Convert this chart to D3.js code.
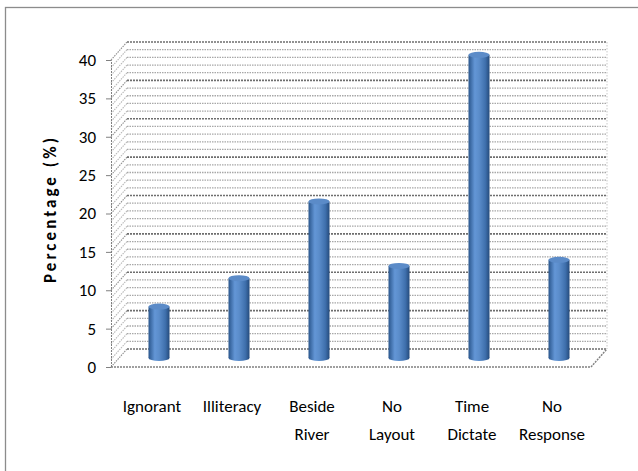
<!DOCTYPE html>
<html>
<head>
<meta charset="utf-8">
<script src="https://cdn.jsdelivr.net/npm/d3@7"></script>
<style>
  html, body { margin: 0; padding: 0; background: #fff; }
  svg { display: block; }
</style>
</head>
<body>
<svg id="chart" width="638" height="471"></svg>
<script>
// ---- data ----
const categories = ["Ignorant", "Illiteracy", "Beside River", "No Layout", "Time Dictate", "No Response"];
const values = [6.7, 10.4, 20.4, 12.0, 39.5, 12.8];
const yTicks = [0, 5, 10, 15, 20, 25, 30, 35, 40];
const yTitle = "Percentage (%)";

// ---- layout ----
const svg = d3.select("#chart");
const DX = 16, DY = -18;           // 3D depth offset (front -> back)
const y = d3.scaleLinear().domain([0, 40]).range([367, 60]);
const x = d3.scaleBand().domain(categories).range([111, 591]).padding(0);
const font = "Carlito, Calibri, Lato, 'DejaVu Sans', sans-serif";

// outer frame
svg.append("rect")
  .attr("x", 5.5).attr("y", 7.5).attr("width", 700).attr("height", 500)
  .attr("fill", "none").attr("stroke", "#8c8c8c").attr("stroke-width", 1.3);

// gridlines: side wall diagonal + back wall horizontal
const minor = d3.range(0, 41, 1);
const g = svg.append("g");
minor.forEach(v => {
  const major = v % 5 === 0;
  const yf = y(v), yb = y(v) + DY;
  g.append("line")
    .attr("x1", x.range()[0]).attr("y1", yf)
    .attr("x2", x.range()[0] + DX).attr("y2", yb)
    .attr("stroke", major ? "#8f8f8f" : "#b8b8b8")
    .attr("stroke-width", 1.1)
    .attr("stroke-dasharray", "1.5,1");
  g.append("line")
    .attr("x1", x.range()[0] + DX).attr("y1", yb)
    .attr("x2", x.range()[1] + DX).attr("y2", yb)
    .attr("stroke", major ? "#6e6e6e" : "#a8a8a8")
    .attr("stroke-width", major ? 1.6 : 1.3)
    .attr("stroke-dasharray", major ? "2,1" : "1.5,1");
});
// back wall right edge
g.append("line")
  .attr("x1", x.range()[1] + DX).attr("y1", y(40) + DY)
  .attr("x2", x.range()[1] + DX).attr("y2", y(0) + DY)
  .attr("stroke", "#c8c8c8").attr("stroke-dasharray", "1.5,1.5");
// floor front edge and right edge
g.append("line")
  .attr("x1", x.range()[0]).attr("y1", y(0))
  .attr("x2", x.range()[1]).attr("y2", y(0))
  .attr("stroke", "#808080").attr("stroke-width", 1.4).attr("stroke-dasharray", "2,1");
g.append("line")
  .attr("x1", x.range()[1]).attr("y1", y(0))
  .attr("x2", x.range()[1] + DX).attr("y2", y(0) + DY)
  .attr("stroke", "#808080").attr("stroke-width", 1.4).attr("stroke-dasharray", "2,1");

// y axis
const yAxis = d3.axisLeft(y).tickValues(yTicks).tickSize(5).tickPadding(10);
const ax = svg.append("g").attr("transform", `translate(${x.range()[0]},0)`).call(yAxis);
ax.select(".domain").attr("stroke", "#808080").attr("stroke-dasharray", "2,1");
ax.selectAll(".tick line").attr("stroke", "#808080");
ax.selectAll(".tick text")
  .attr("font-family", font).attr("font-size", 17).attr("fill", "#000");

// y axis title
svg.append("text")
  .attr("transform", "translate(56,210.5) rotate(-90)")
  .attr("text-anchor", "middle")
  .attr("font-family", font).attr("font-weight", "bold").attr("font-size", 17)
  .attr("textLength", 145).attr("lengthAdjust", "spacing")
  .attr("fill", "#000")
  .text(yTitle);

// cylinders
const defs = svg.append("defs");
const grad = defs.append("linearGradient").attr("id", "cyl").attr("x1", "0").attr("x2", "1").attr("y1", "0").attr("y2", "0");
[[0, "#2a568c"], [0.3, "#6396d6"], [0.5, "#5b8dcb"], [0.8, "#3f70ad"], [1, "#254b7c"]]
  .forEach(([o, c]) => grad.append("stop").attr("offset", o).attr("stop-color", c));

const R = 10.5, RY = 3;
const bars = svg.append("g").selectAll("g").data(categories.map((c, i) => ({c, v: values[i]}))).join("g");
bars.each(function(d) {
  const gg = d3.select(this);
  const cx = x(d.c) + x.bandwidth() / 2 + DX / 2;
  const yTop = y(d.v) + DY / 2, yBot = y(0) + DY / 2;
  gg.append("ellipse").attr("cx", cx).attr("cy", yBot).attr("rx", R).attr("ry", RY).attr("fill", "url(#cyl)");
  gg.append("rect").attr("x", cx - R).attr("y", yTop).attr("width", 2 * R).attr("height", yBot - yTop).attr("fill", "url(#cyl)");
  gg.append("ellipse").attr("cx", cx).attr("cy", yTop).attr("rx", R).attr("ry", RY).attr("fill", "#5b8bc8");
});

// category labels
const lab = svg.append("g").selectAll("text").data(categories).join("text")
  .attr("text-anchor", "middle")
  .attr("font-family", font).attr("font-size", 17).attr("fill", "#000")
  .attr("x", d => x(d) + x.bandwidth() / 2 + 1);
lab.each(function(d) {
  const parts = d.split(" ");
  const t = d3.select(this);
  parts.forEach((p, i) => {
    t.append("tspan").attr("x", t.attr("x")).attr("y", 412 + i * 28).text(p);
  });
});
</script>
</body>
</html>
